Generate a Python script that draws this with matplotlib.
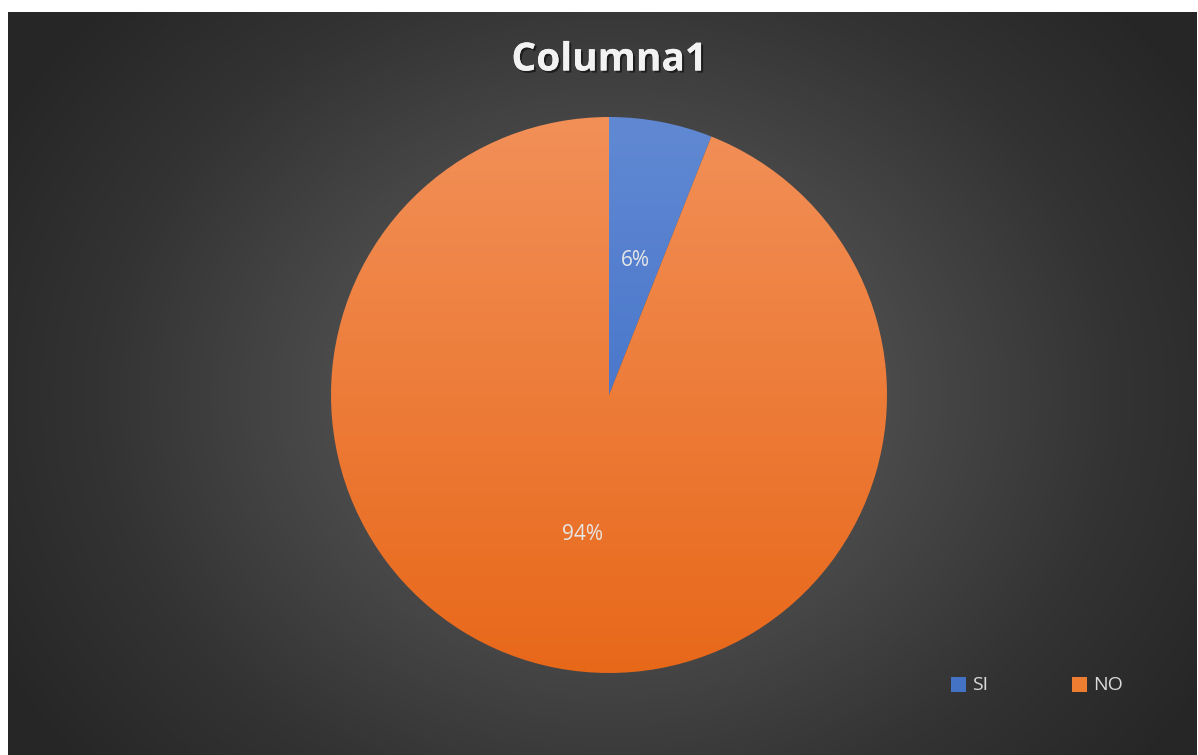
import numpy as np
import matplotlib
matplotlib.use("Agg")
from matplotlib import pyplot as plt
from matplotlib import patheffects as pe
from matplotlib.colors import LinearSegmentedColormap

labels = ["SI", "NO"]
values = [6, 94]
top_colors = ["#6189d3", "#f29058"]
bottom_colors = ["#3567c4", "#e8681a"]
legend_colors = ["#4472c4", "#ed7d31"]

W, H = 1198, 755
fig = plt.figure(figsize=(W / 100, H / 100), dpi=100)
fig.patch.set_facecolor("white")

# dark panel with radial gradient
bg = fig.add_axes([8 / W, 0, (1197 - 8) / W, (755 - 12) / H])
bg.set_axis_off()
yy, xx = np.mgrid[0:743, 0:1189]
cx, cy = 601, 383
r = np.sqrt((xx - cx) ** 2 + ((yy - cy) * 1.2) ** 2) / 700.0
r = np.clip(r, 0, 1)
cmap_bg = LinearSegmentedColormap.from_list(
    "bg", [(0, "#525252"), (0.4, "#4a4a4a"), (0.73, "#333333"), (1.0, "#262626")])
bg.imshow(r, cmap=cmap_bg, aspect="auto", vmin=0, vmax=1, interpolation="bilinear")

# title
fig.text(609 / W, 1 - 60 / H, "Columna1", ha="center", va="center",
         fontsize=28, fontweight="bold", family="Open Sans", color="#f2f2f2",
         path_effects=[pe.withSimplePatchShadow(offset=(1.5, -1.5), shadow_rgbFace="black", alpha=0.5),
                       pe.Normal()])

# pie
ax = fig.add_axes([331 / W, (755 - 673) / H, 556 / W, 556 / H])
ax.set_axis_off()
wedges, texts, autotexts = ax.pie(values, startangle=90, counterclock=False,
                                  autopct="%1.0f%%", pctdistance=0.5, radius=1,
                                  textprops=dict(color="#e6e6e6", fontsize=15, family="Open Sans"))
ax.set_xlim(-1, 1)
ax.set_ylim(-1, 1)
grad = np.linspace(0, 1, 256).reshape(-1, 1)
for w, c1, c2 in zip(wedges, top_colors, bottom_colors):
    w.set_facecolor("none")
    w.set_edgecolor("none")
    cm = LinearSegmentedColormap.from_list("g", [c1, c2])
    im = ax.imshow(grad, cmap=cm, extent=[-1, 1, -1, 1], aspect="auto", origin="upper", zorder=0)
    im.set_clip_path(w)
for t in autotexts:
    t.set_zorder(5)
    t.set_va("center_baseline")

# legend
for i, (lab, col) in enumerate(zip(labels, legend_colors)):
    x0 = [951, 1072][i]
    fig.patches.append(plt.Rectangle((x0 / W, 1 - 692 / H), 15 / W, 15 / H,
                                     transform=fig.transFigure, facecolor=col, edgecolor="none"))
    fig.text((x0 + 21) / W, 1 - 685 / H, lab, ha="left", va="center",
             fontsize=14, family="Open Sans", color="#d9d9d9")

fig.savefig("out.png", dpi=100)
